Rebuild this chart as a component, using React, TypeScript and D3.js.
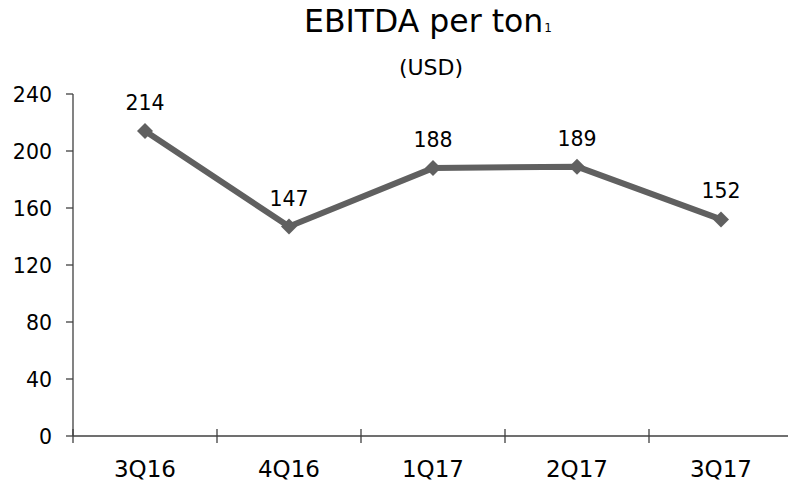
import React from "react";
import * as d3 from "d3";

const categories = ["3Q16", "4Q16", "1Q17", "2Q17", "3Q17"];
const values = [214, 147, 188, 189, 152];
const yTicks = [0, 40, 80, 120, 160, 200, 240];

const W = 788, H = 482;
const FONT = "'DejaVu Sans', Verdana, sans-serif";

export default function App() {
  const x0 = 73, x1 = 793;
  const x = d3.scaleBand<string>().domain(categories).range([x0, x1]);
  const y = d3.scaleLinear().domain([0, 240]).range([436, 94]);
  const line = d3.line<number>()
    .x((_, i) => (x(categories[i]) as number) + x.bandwidth() / 2)
    .y((d) => y(d));
  const marker = d3.symbol().type(d3.symbolSquare).size(128)();
  const axisColor = "#404040";
  return (
    <svg width={W} height={H} style={{ position: "absolute", left: 0, top: 0 }}>
      <rect width={W} height={H} fill="#fff" />
      <text x={304} y={32} textAnchor="start" fontFamily={FONT} fontSize={31.5} fill="#000">
        EBITDA per ton<tspan fontSize={12} dx={1}>1</tspan>
      </text>
      <text x={431} y={75} textAnchor="middle" fontFamily={FONT} fontSize={22} fill="#000">(USD)</text>
      {/* y axis */}
      <line x1={x0} x2={x0} y1={y(240)} y2={y(0)} stroke={axisColor} strokeWidth={1.3} />
      {yTicks.map((t) => (
        <g key={t}>
          <line x1={x0 - 7} x2={x0} y1={y(t)} y2={y(t)} stroke={axisColor} strokeWidth={1.3} />
          <text x={52} y={y(t) + 8} textAnchor="end" fontFamily={FONT} fontSize={20.5} fill="#000">{t}</text>
        </g>
      ))}
      {/* x axis */}
      <line x1={x0} x2={W} y1={y(0)} y2={y(0)} stroke={axisColor} strokeWidth={1.3} />
      {categories.map((c) => (
        <g key={c}>
          <line x1={x(c) as number} x2={x(c) as number} y1={y(0) - 7} y2={y(0) + 7} stroke={axisColor} strokeWidth={1.3} />
          <text x={(x(c) as number) + x.bandwidth() / 2} y={477} textAnchor="middle" fontFamily={FONT} fontSize={23} fill="#000">{c}</text>
        </g>
      ))}
      <line x1={x1} x2={x1} y1={y(0) - 7} y2={y(0) + 7} stroke={axisColor} strokeWidth={1.3} />
      <path d={line(values) || ""} fill="none" stroke="#606060" strokeWidth={6} strokeLinejoin="round" />
      {values.map((v, i) => {
        const cx = (x(categories[i]) as number) + x.bandwidth() / 2;
        return (
          <g key={i}>
            <path d={marker || ""} transform={`translate(${cx},${y(v)}) rotate(45)`} fill="#606060" />
            <text x={cx} y={y(v) - 21} textAnchor="middle" fontFamily={FONT} fontSize={20.5} fill="#000">{v}</text>
          </g>
        );
      })}
    </svg>
  );
}
